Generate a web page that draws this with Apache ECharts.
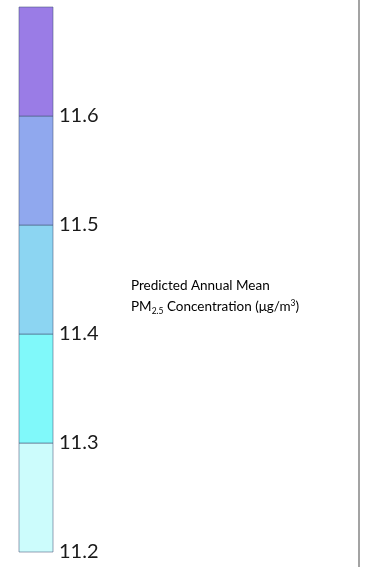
<!DOCTYPE html>
<html>
<head>
<meta charset="utf-8">
<style>
  html, body { margin: 0; padding: 0; background: #ffffff; }
  #chart { width: 365px; height: 567px; }
</style>
<script src="https://cdn.jsdelivr.net/npm/echarts@6/dist/echarts.min.js"></script>
</head>
<body>
<div id="chart"></div>
<script>
// Class breaks of the colour scale (µg/m³) and the fill of each class
const breaks = [11.2, 11.3, 11.4, 11.5, 11.6, 11.7];
const bandColors = ['#CCFCFC', '#80F9FA', '#8CD5F2', '#90A8EE', '#9A7CE6'];
const tickLabels = ['11.2', '11.3', '11.4', '11.5', '11.6'];

const bands = breaks.slice(0, -1).map((lo, i) => [lo, breaks[i + 1]]);

const chart = echarts.init(document.getElementById('chart'), null, { renderer: 'canvas' });

const font = 'Lato, "Open Sans", sans-serif';

chart.setOption({
  animation: false,
  backgroundColor: '#ffffff',
  grid: { left: 19, right: 312, top: 7, bottom: 15 },
  xAxis: { type: 'value', min: 0, max: 1, show: false },
  yAxis: {
    type: 'value',
    position: 'right',
    min: breaks[0],
    max: breaks[breaks.length - 1],
    interval: 0.1,
    splitLine: { show: false },
    axisLine: { show: false },
    axisTick: { show: false },
    axisLabel: {
      margin: 6,
      fontFamily: font,
      fontSize: 20,
      color: '#1a1a1a',
      padding: [5, 0, 0, 0],
      formatter: v => {
        const s = v.toFixed(1);
        return tickLabels.includes(s) ? s : '';
      }
    }
  },
  series: [{
    type: 'custom',
    data: bands,
    encode: { y: [0, 1] },
    renderItem: (params, api) => {
      const lo = api.coord([0, api.value(0)]);
      const hi = api.coord([1, api.value(1)]);
      return {
        type: 'rect',
        shape: { x: lo[0], y: hi[1], width: hi[0] - lo[0], height: lo[1] - hi[1] },
        style: {
          fill: bandColors[params.dataIndex],
          stroke: 'rgba(70,85,120,0.55)',
          lineWidth: 1
        }
      };
    }
  }],
  graphic: [
    {
      type: 'text',
      left: 131,
      top: 279,
      style: {
        text: '{n|Predicted Annual Mean}\n{n|PM}{sub|2.5}{n| Concentration (μg/m}{sup|3}{n|)}',
        rich: {
          n: { fontFamily: font, fontSize: 13.5, color: '#1a1a1a', lineHeight: 21 },
          sub: { fontFamily: font, fontSize: 8.5, color: '#1a1a1a', lineHeight: 21, padding: [8, 0, 0, 0] },
          sup: { fontFamily: font, fontSize: 8.5, color: '#1a1a1a', lineHeight: 21, padding: [0, 0, 8, 0] }
        }
      }
    },
    {
      type: 'line',
      shape: { x1: 359, y1: 0, x2: 359, y2: 567 },
      style: { stroke: '#a3a3a3', lineWidth: 2 }
    }
  ]
});
</script>
</body>
</html>
